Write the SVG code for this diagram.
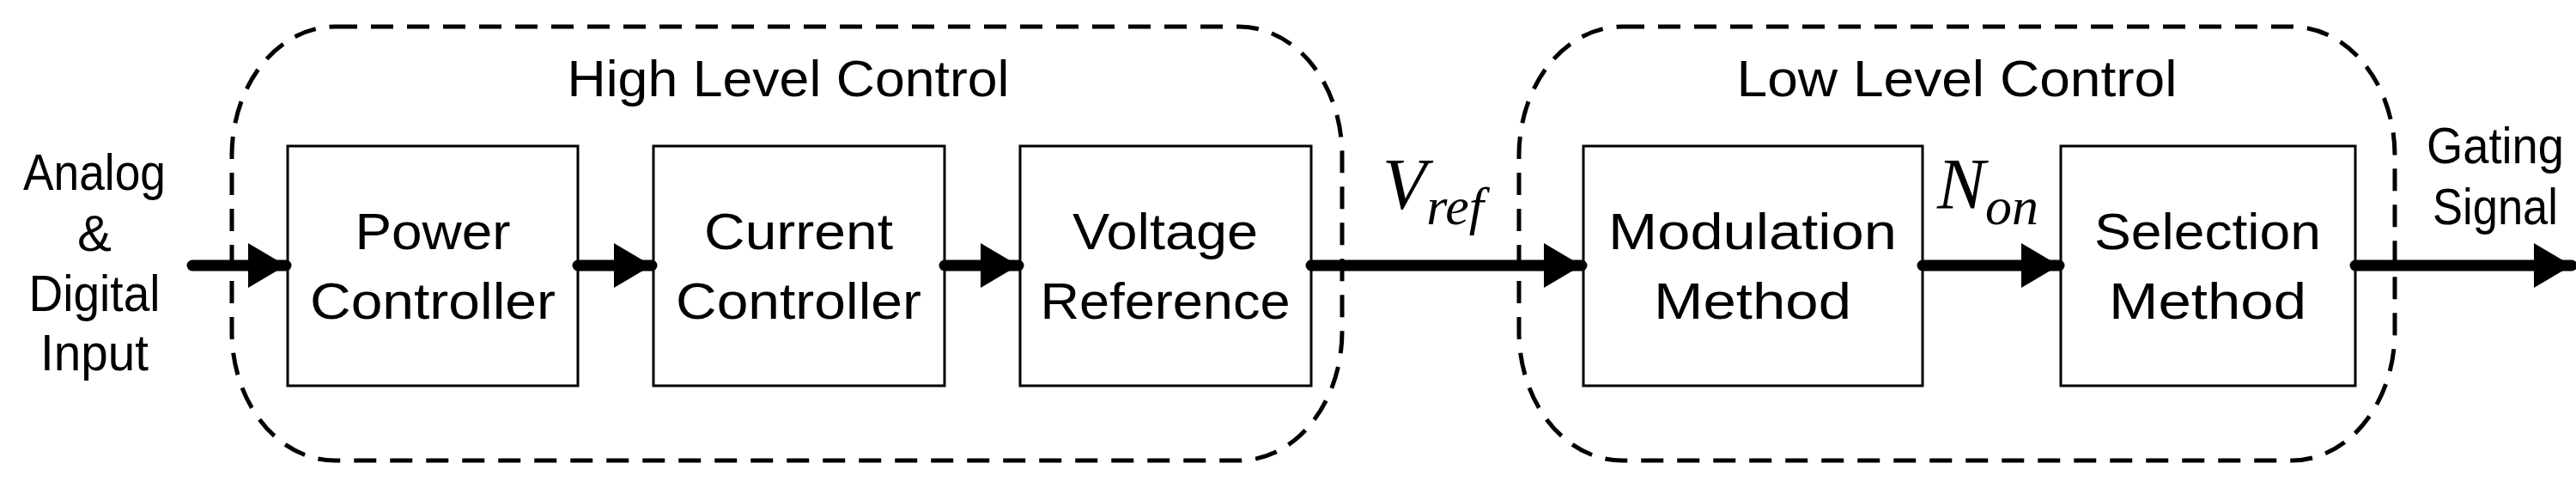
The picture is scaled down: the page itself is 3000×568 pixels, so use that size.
<svg xmlns="http://www.w3.org/2000/svg" width="3000" height="568" viewBox="0 0 3000 568">
<style>
.grp{fill:none;stroke:#000;stroke-width:5;stroke-dasharray:26 16}
.blk{fill:#fff;stroke:#000;stroke-width:3}
.t{font-family:"Liberation Sans",Arial,sans-serif;font-size:60px;text-anchor:middle;fill:#000}
.m{font-family:"Liberation Serif","Times New Roman",serif;font-style:italic;fill:#000}
.ln{stroke:#000;stroke-width:13;stroke-linecap:round}
</style>
<defs>
<marker id="ah" markerUnits="userSpaceOnUse" markerWidth="46" markerHeight="60" refX="44" refY="30" orient="auto" viewBox="0 0 46 60">
<polygon points="0,4 44,30 0,56" fill="#000"/>
</marker>
</defs>
<g id="high-level">
<rect class="grp" x="270" y="31" width="1293" height="505" rx="120" ry="150"/>
<text class="t" x="918" y="112" textLength="515" lengthAdjust="spacingAndGlyphs">High Level Control</text>
</g>
<g id="low-level">
<rect class="grp" x="1769" y="31" width="1020" height="505" rx="120" ry="150"/>
<text class="t" x="2279" y="112" textLength="513" lengthAdjust="spacingAndGlyphs">Low Level Control</text>
</g>
<g id="input-label"><text class="t" x="110" y="221" textLength="166" lengthAdjust="spacingAndGlyphs">Analog</text><text class="t" x="110" y="292">&amp;</text><text class="t" x="110" y="362" textLength="153" lengthAdjust="spacingAndGlyphs">Digital</text><text class="t" x="110" y="431" textLength="126" lengthAdjust="spacingAndGlyphs">Input</text></g>
<g id="power"><rect class="blk" x="335" y="170" width="338" height="279"/><text class="t" x="504" y="290" textLength="181" lengthAdjust="spacingAndGlyphs">Power</text><text class="t" x="504" y="371" textLength="286" lengthAdjust="spacingAndGlyphs">Controller</text></g>
<g id="current"><rect class="blk" x="761" y="170" width="339" height="279"/><text class="t" x="930" y="290" textLength="220" lengthAdjust="spacingAndGlyphs">Current</text><text class="t" x="930" y="371" textLength="286" lengthAdjust="spacingAndGlyphs">Controller</text></g>
<g id="voltage"><rect class="blk" x="1188" y="170" width="339" height="279"/><text class="t" x="1357" y="290" textLength="216" lengthAdjust="spacingAndGlyphs">Voltage</text><text class="t" x="1357" y="371" textLength="291" lengthAdjust="spacingAndGlyphs">Reference</text></g>
<g id="modulation"><rect class="blk" x="1844" y="170" width="395" height="279"/><text class="t" x="2041" y="290" textLength="336" lengthAdjust="spacingAndGlyphs">Modulation</text><text class="t" x="2041" y="371" textLength="230" lengthAdjust="spacingAndGlyphs">Method</text></g>
<g id="selection"><rect class="blk" x="2400" y="170" width="343" height="279"/><text class="t" x="2571" y="290" textLength="264" lengthAdjust="spacingAndGlyphs">Selection</text><text class="t" x="2571" y="371" textLength="230" lengthAdjust="spacingAndGlyphs">Method</text></g>
<g id="output-label"><text class="t" x="2906" y="190" textLength="160" lengthAdjust="spacingAndGlyphs">Gating</text><text class="t" x="2906" y="261" textLength="146" lengthAdjust="spacingAndGlyphs">Signal</text></g>
<g id="connectors">
<line class="ln" x1="224" y1="309" x2="333" y2="309" marker-end="url(#ah)"/>
<line class="ln" x1="673" y1="309" x2="759" y2="309" marker-end="url(#ah)"/>
<line class="ln" x1="1100" y1="309" x2="1186" y2="309" marker-end="url(#ah)"/>
<line class="ln" x1="1527" y1="309" x2="1842" y2="309" marker-end="url(#ah)"/>
<line class="ln" x1="2239" y1="309" x2="2398" y2="309" marker-end="url(#ah)"/>
<line class="ln" x1="2743" y1="309" x2="2995" y2="309" marker-end="url(#ah)"/>
<text class="m" x="1610" y="243" font-size="84">V<tspan font-size="62" dy="18">ref</tspan></text>
<text class="m" x="2256" y="243" font-size="84">N<tspan font-size="62" dy="18">on</tspan></text>
</g>
</svg>
